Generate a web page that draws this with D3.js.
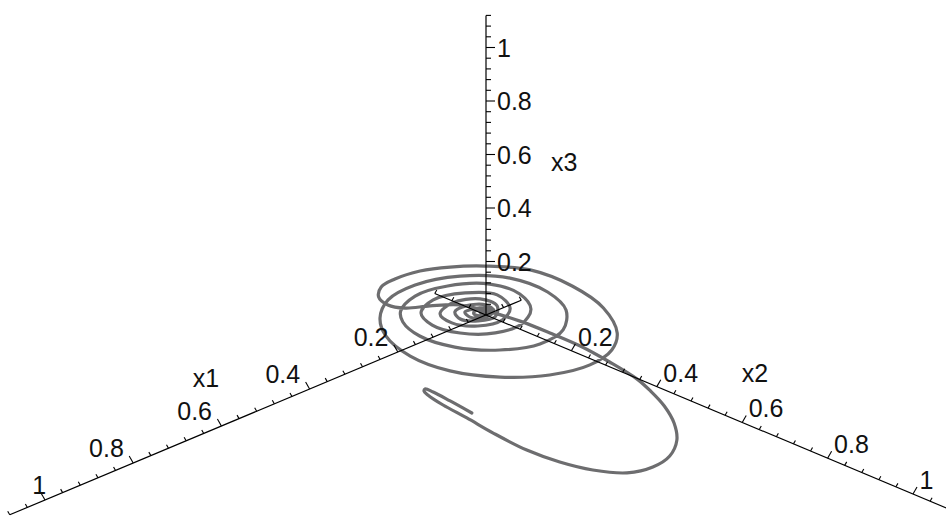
<!DOCTYPE html>
<html>
<head>
<meta charset="utf-8">
<script src="https://d3js.org/d3.v7.min.js"></script>
<style>
body { margin: 0; background: #fff; }
text { font-family: "Liberation Sans", Arial, sans-serif; font-size: 25px; fill: #111; }
.axis { stroke: #000; stroke-width: 1.2; fill: none; }
.tick { stroke: #000; stroke-width: 1.1; }
.traj { fill: none; stroke: #6d6d6f; stroke-width: 3.2; stroke-linejoin: round; stroke-linecap: round; }
</style>
</head>
<body>
<svg width="946" height="519"></svg>
<script>

// trajectory (curve lies in the x3 = 0 plane)
var x1Vals = [0.281, 0.273, 0.268, 0.269, 0.276, 0.282, 0.292, 0.300, 0.311, 0.319,
  0.314, 0.298, 0.267, 0.222, 0.173, 0.122, 0.079, 0.044, 0.019, 0.002,
  -0.013, -0.023, -0.024, -0.022, -0.013, 0.002, 0.039, 0.073, 0.084, 0.073,
  0.043, 0.006, -0.044, -0.089, -0.131, -0.172, -0.176, -0.152, -0.100, -0.048, 0.017, 0.090,
  0.152, 0.192, 0.197, 0.170, 0.128, 0.070, -0.001, -0.076, -0.127, -0.132,
  -0.104, -0.047, 0.017, 0.079, 0.122, 0.132, 0.113, 0.086, 0.029, -0.035,
  -0.088, -0.095, -0.067, -0.016, 0.038, 0.078, 0.088, 0.068, 0.019, -0.036,
  -0.067, -0.046, -0.005, 0.039, 0.060, 0.049, 0.006, -0.037, -0.037, -0.005,
  0.025, 0.040, 0.027, -0.002, -0.027, -0.020, 0.005, 0.024, 0.016, -0.003,
  -0.020, -0.014, 0.006, 0.011, 0.002, -0.010, -0.009, 0.000, -0.001, -0.009, -0.004];

var x2Vals = [0.257, 0.198, 0.153, 0.135, 0.140, 0.155, 0.201, 0.265, 0.338, 0.425,
  0.497, 0.558, 0.606, 0.620, 0.609, 0.573, 0.522, 0.463, 0.405, 0.356,
  0.276, 0.197, 0.125, 0.057, -0.004, -0.058, -0.091, -0.114, -0.143, -0.176,
  -0.201, -0.207, -0.200, -0.176, -0.138, -0.074, 0.020, 0.118, 0.204, 0.245, 0.261, 0.242,
  0.190, 0.114, 0.026, -0.059, -0.116, -0.157, -0.167, -0.139, -0.075, 0.008,
  0.080, 0.132, 0.144, 0.114, 0.053, -0.019, -0.078, -0.111, -0.136, -0.126,
  -0.082, -0.019, 0.036, 0.067, 0.061, 0.020, -0.035, -0.082, -0.104, -0.086,
  -0.043, 0.009, 0.033, 0.021, -0.018, -0.057, -0.073, -0.052, -0.012, 0.016,
  0.007, -0.019, -0.045, -0.049, -0.028, -0.002, 0.006, -0.013, -0.033, -0.031,
  -0.018, -0.003, -0.001, -0.017, -0.024, -0.018, -0.007, -0.005, -0.015, -0.014, -0.007];

var curveX3 = 0;

// axis extents and ticks
var x1Range = [-0.08, 1.08];
var x2Range = [-0.12, 1.09];
var x3Range = [0, 1.12];
var tickValues = [0.2, 0.4, 0.6, 0.8, 1];
var tickLabels = ["0.2", "0.4", "0.6", "0.8", "1"];
var minorStep = 0.04;

var svg = d3.select("svg");
var ox = 486, oy = 315;

// screen offset of one unit along each axis
var u1x = d3.scaleLinear().domain([0, 1]).range([0, -441]),
    u1y = d3.scaleLinear().domain([0, 1]).range([0, 185]),
    u2x = d3.scaleLinear().domain([0, 1]).range([0, 427]),
    u2y = d3.scaleLinear().domain([0, 1]).range([0, 179]),
    u3y = d3.scaleLinear().domain([0, 1]).range([0, -267.5]);

function project(a, b, c) {
  return [ox + u1x(a) + u2x(b), oy + u1y(a) + u2y(b) + u3y(c)];
}

var pts = x1Vals.map(function(v, i) { return project(v, x2Vals[i], curveX3); });

svg.append("path")
    .attr("class", "traj")
    .attr("d", d3.line().curve(d3.curveCatmullRom.alpha(0.5))(pts));

var axes = [
  {range: x1Range, pt: function(v) { return project(v, 0, 0); }, dir: [-0.5, -0.866], maj: 8, min: 4},
  {range: x2Range, pt: function(v) { return project(0, v, 0); }, dir: [0.5, -0.866], maj: 8, min: 4},
  {range: x3Range, pt: function(v) { return project(0, 0, v); }, dir: [1, 0], maj: 9, min: 5}
];

var g = svg.append("g");

axes.forEach(function(ax) {
  var p0 = ax.pt(ax.range[0]), p1 = ax.pt(ax.range[1]);
  g.append("line").attr("class", "axis")
      .attr("x1", p0[0]).attr("y1", p0[1]).attr("x2", p1[0]).attr("y2", p1[1]);
  var ticks = d3.range(Math.ceil(ax.range[0] / minorStep - 1e-6), Math.floor(ax.range[1] / minorStep + 1e-6) + 1)
      .filter(function(k) { return k !== 0; })
      .map(function(k) { return +(k * minorStep).toFixed(2); });
  ticks.forEach(function(v) {
    var p = ax.pt(v);
    var major = tickValues.indexOf(v) >= 0;
    var len = major ? ax.maj : ax.min;
    g.append("line").attr("class", "tick")
        .attr("x1", p[0]).attr("y1", p[1])
        .attr("x2", p[0] + ax.dir[0] * len).attr("y2", p[1] + ax.dir[1] * len);
  });
});

// tick labels
tickValues.forEach(function(v, i) {
  var p = axes[0].pt(v);
  var t = g.append("text").attr("text-anchor", "middle").text(tickLabels[i]);
  var w = t.node().getComputedTextLength();
  t.attr("x", p[0] + 8 - w).attr("y", p[1] - 6);

  p = axes[1].pt(v);
  g.append("text").attr("x", p[0] + 6.5).attr("y", p[1] - 5).text(tickLabels[i]);

  p = axes[2].pt(v);
  g.append("text").attr("x", p[0] + 11).attr("y", p[1] + 9).text(tickLabels[i]);
});

// axis titles
var titles = [
  {name: "x1", at: [0.49, -0.15, 0]},
  {name: "x2", at: [-0.145, 0.48, 0]},
  {name: "x3", at: [-0.09, 0.09, 0.565]}
];
titles.forEach(function(d) {
  var p = project(d.at[0], d.at[1], d.at[2]);
  g.append("text").attr("text-anchor", "middle")
      .attr("x", p[0]).attr("y", p[1] + 8).text(d.name);
});

</script>
</body>
</html>
